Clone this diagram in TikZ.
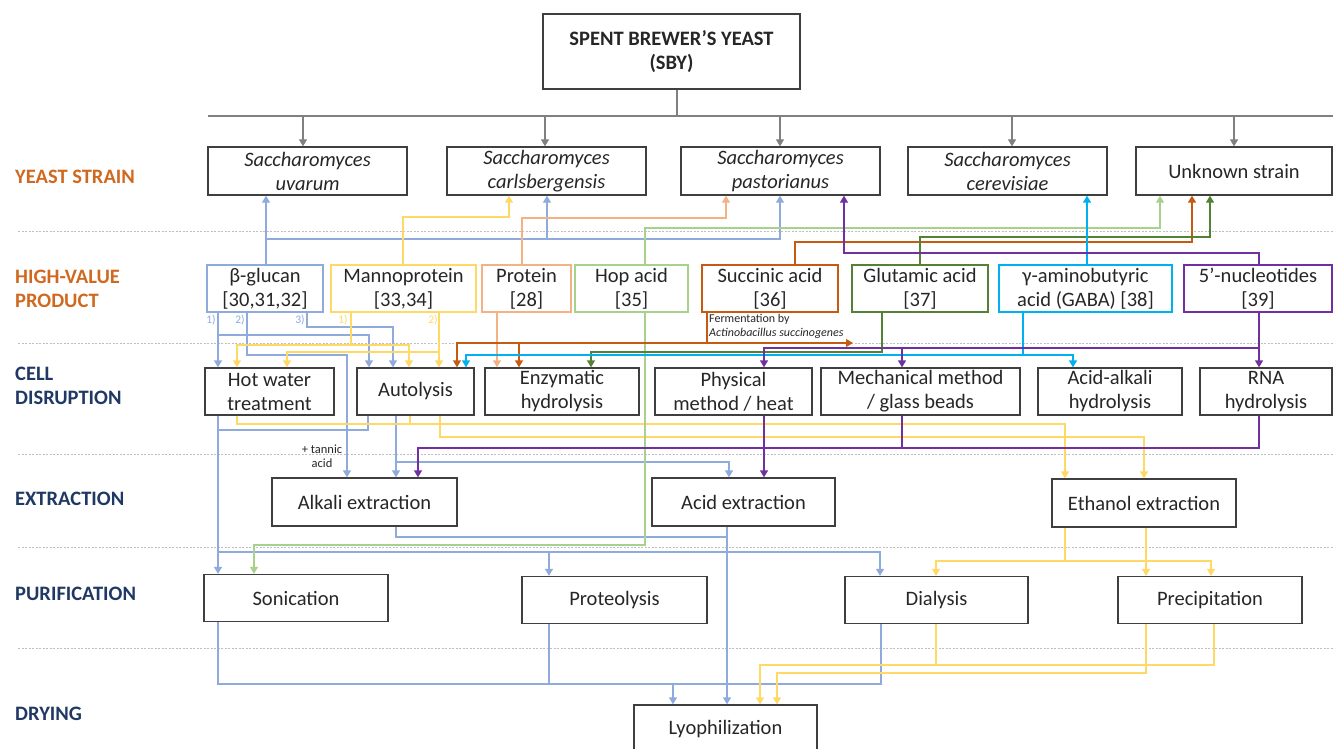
\documentclass[tikz,border=0pt]{standalone}
\usepackage{fontspec}
\setmainfont{Carlito}
\usetikzlibrary{arrows.meta}
\definecolor{gline}{HTML}{808080}
\definecolor{bxc}{HTML}{3F3F3F}
\definecolor{txt}{HTML}{262626}
\definecolor{cbl}{HTML}{8FAADC}
\definecolor{cye}{HTML}{FFD966}
\definecolor{clo}{HTML}{F4B183}
\definecolor{clg}{HTML}{A9D18E}
\definecolor{cdo}{HTML}{C55A11}
\definecolor{cdg}{HTML}{548235}
\definecolor{ccy}{HTML}{00B0F0}
\definecolor{cpu}{HTML}{7030A0}
\definecolor{laborange}{HTML}{D0691F}
\definecolor{labnavy}{HTML}{1F3864}
\definecolor{dashc}{HTML}{BFBFBF}
\begin{document}
\begin{tikzpicture}[x=1pt,y=-1pt,
  box/.style={draw=bxc, line width=1.3pt, inner sep=0pt, align=center, text=txt,
    font=\fontsize{20.5}{24}\selectfont},
  pbox/.style={box, line width=2pt},
  lab/.style={anchor=west, align=left, inner sep=0pt, font=\fontsize{20.5}{24}\bfseries},
  ar/.style={-{Triangle[width=8pt,length=7pt]}},
  wgr/.style={draw=gline, line width=1.3pt},
  wbl/.style={draw=cbl, line width=1.3pt},
  wye/.style={draw=cye, line width=1.3pt},
  wlo/.style={draw=clo, line width=1.3pt},
  wlg/.style={draw=clg, line width=1.3pt},
  wdo/.style={draw=cdo, line width=1.3pt},
  wdg/.style={draw=cdg, line width=1.3pt},
  wcy/.style={draw=ccy, line width=1.3pt},
  wpu/.style={draw=cpu, line width=1.3pt},
  sep/.style={draw=dashc, line width=0.9pt, dash pattern=on 2pt off 1.5pt},
  small/.style={inner sep=0pt, font=\fontsize{11.5}{14}\selectfont}
]
\useasboundingbox (0,0) rectangle (1333,749);

% separators
\foreach \yy in {231,343,454,547,648} \draw[sep] (18,\yy) -- (1333,\yy);

% left labels
\node[lab, text=laborange] (lys) at (15,177) {YEAST STRAIN};
\node[lab, text=laborange] (lhv) at (15,289) {HIGH-VALUE\\PRODUCT};
\node[lab, text=labnavy] (lcd) at (15,386) {CELL\\DISRUPTION};
\node[lab, text=labnavy] (lex) at (15,499) {EXTRACTION};
\node[lab, text=labnavy] (lpu) at (15,594) {PURIFICATION};
\node[lab, text=labnavy] (ldr) at (15,714) {DRYING};

% top
\node[box, minimum width=257pt, minimum height=75pt, font=\fontsize{20.5}{24}\bfseries] (sby) at (671.5,51.5) {SPENT BREWER’S YEAST\\(SBY)};

% strains
\node[box, minimum width=199pt, minimum height=48pt] (uv) at (307.5,171) {\textit{Saccharomyces}\\\textit{uvarum}};
\node[box, minimum width=199pt, minimum height=48pt] (carls) at (546.5,171) {\textit{Saccharomyces}\\\textit{carlsbergensis}};
\node[box, minimum width=199pt, minimum height=48pt] (past) at (780.5,171) {\textit{Saccharomyces}\\\textit{pastorianus}};
\node[box, minimum width=199pt, minimum height=48pt] (cerev) at (1007.5,171) {\textit{Saccharomyces}\\\textit{cerevisiae}};
\node[box, minimum width=196pt, minimum height=48pt] (unk) at (1234,171) {Unknown strain};

% products
\node[pbox, draw=cbl, minimum width=116pt, minimum height=47pt] (bg) at (265,288.5) {β-glucan\\{[30,31,32]}};
\node[pbox, draw=cye, minimum width=145pt, minimum height=47pt] (manno) at (403.5,288.5) {Mannoprotein\\{[33,34]}};
\node[pbox, draw=clo, minimum width=89pt, minimum height=47pt] (prot) at (526.5,288.5) {Protein\\{[28]}};
\node[pbox, draw=clg, minimum width=113pt, minimum height=47pt] (hop) at (631.5,288.5) {Hop acid\\{[35]}};
\node[pbox, draw=cdo, minimum width=136pt, minimum height=47pt] (succ) at (770,288.5) {Succinic acid\\{[36]}};
\node[pbox, draw=cdg, minimum width=136pt, minimum height=47pt] (glu) at (920,288.5) {Glutamic acid\\{[37]}};
\node[pbox, draw=ccy, minimum width=173pt, minimum height=47pt] (gaba) at (1085.5,288.5) {γ-aminobutyric\\acid (GABA) [38]};
\node[pbox, draw=cpu, minimum width=148pt, minimum height=47pt] (nuc) at (1258,288.5) {5’-nucleotides\\{[39]}};

% cell disruption
\node[box, minimum width=129pt, minimum height=47pt] (hw) at (269.5,391.5) {Hot water\\treatment};
\node[box, minimum width=117pt, minimum height=47pt] (auto) at (415.5,391.5) {Autolysis};
\node[box, minimum width=154pt, minimum height=47pt] (enz) at (562,391.5) {Enzymatic\\hydrolysis};
\node[box, minimum width=157pt, minimum height=47pt] (phys) at (733.5,391.5) {Physical\\method / heat};
\node[box, minimum width=199pt, minimum height=47pt] (mech) at (920.5,391.5) {Mechanical method\\/ glass beads};
\node[box, minimum width=144pt, minimum height=47pt] (aa) at (1110,391.5) {Acid-alkali\\hydrolysis};
\node[box, minimum width=132pt, minimum height=47pt] (rna) at (1266,391.5) {RNA\\hydrolysis};

% extraction
\node[box, minimum width=185pt, minimum height=48pt] (alk) at (364.5,502) {Alkali extraction};
\node[box, minimum width=183pt, minimum height=48pt] (acid) at (743.5,502) {Acid extraction};
\node[box, minimum width=184pt, minimum height=48pt] (eth) at (1144,503) {Ethanol extraction};

% purification
\node[box, minimum width=184pt, minimum height=47pt] (son) at (296,598) {Sonication};
\node[box, minimum width=185pt, minimum height=47pt] (prteo) at (614.5,600) {Proteolysis};
\node[box, minimum width=183pt, minimum height=47pt] (dial) at (936.5,600) {Dialysis};
\node[box, minimum width=184pt, minimum height=47pt] (prec) at (1210,600) {Precipitation};

% drying
\node[box, minimum width=183pt, minimum height=48pt] (lyo) at (725.5,729) {Lyophilization};

% small labels
\node[small, text=cbl] (l1) at (211,320) {1)};
\node[small, text=cbl] (l2) at (240,320) {2)};
\node[small, text=cbl] (l3) at (300,320) {3)};
\node[small, text=cye] (m1) at (343,320) {1)};
\node[small, text=cye] (m2) at (433,320) {2)};
\node[small, align=center, text=txt, font=\fontsize{12.5}{14}\selectfont] (tan) at (322,456) {+ tannic\\acid};
\node[small, anchor=west, align=left, text=txt, font=\fontsize{12}{14}\selectfont] (fer) at (709,326) {Fermentation by\\\textit{Actinobacillus succinogenes}};
\coordinate (ferm) at (853,343);

% ---------- gray ----------
\draw[wgr] (sby.south -| 677,0) -- (677,116);
\draw[wgr] (208,116) -- (1333,116);
\draw[wgr,ar] (303,116) -- (uv.north -| 303,0);
\draw[wgr,ar] (545,116) -- (carls.north -| 545,0);
\draw[wgr,ar] (780,116) -- (past.north -| 780,0);
\draw[wgr,ar] (1012,116) -- (cerev.north -| 1012,0);
\draw[wgr,ar] (1234,116) -- (unk.north -| 1234,0);

% ---------- blue (beta-glucan) ----------
\draw[wbl,ar] (bg.north -| 266,0) -- (uv.south -| 266,0);
\draw[wbl,ar] (266,239) -| (carls.south -| 547,0);
\draw[wbl,ar] (547,239) -| (past.south -| 780,0);
\draw[wbl,ar] (bg.south -| 218,0) -- (hw.north -| 218,0);
\draw[wbl,ar] (218,335) -| (auto.north -| 369,0);
\draw[wbl,ar] (bg.south -| 247,0) |- (347,355) -- (alk.north -| 347,0);
\draw[wbl,ar] (bg.south -| 307,0) |- (393,327) -- (auto.north -| 393,0);
\draw[wbl,ar] (hw.south -| 218,0) -- (son.north -| 218,0);
\draw[wbl] (auto.south -| 368,0) |- (218,430);
\draw[wbl,ar] (auto.south -| 396,0) -- (alk.north -| 396,0);
\draw[wbl,ar] (396,462) -| (acid.north -| 729,0);
\draw[wbl] (alk.south -| 396,0) |- (727,537);
\draw[wbl,ar] (acid.south -| 727,0) -- (lyo.north -| 727,0);
\draw[wbl,ar] (218,552) -| (prteo.north -| 549,0);
\draw[wbl,ar] (549,552) -| (dial.north -| 880,0);
\draw[wbl] (son.south -| 218,0) |- (881,684) -- (dial.south -| 881,0);
\draw[wbl] (prteo.south -| 549,0) -- (549,684);
\draw[wbl,ar] (673,684) -- (lyo.north -| 673,0);

% ---------- yellow (mannoprotein) ----------
\draw[wye,ar] (manno.north -| 403,0) |- (509,217) -- (carls.south -| 509,0);
\draw[wye] (manno.south -| 351,0) -- (351,345);
\draw[wye,ar] (351,345) -| (hw.north -| 237,0);
\draw[wye,ar] (351,345) -| (auto.north -| 409,0);
\draw[wye,ar] (manno.south -| 439,0) -- (auto.north -| 439,0);
\draw[wye,ar] (439,352) -| (hw.north -| 287,0);
\draw[wye,ar] (hw.south -| 237,0) |- (1065,424) -- (eth.north -| 1065,0);
\draw[wye] (auto.south -| 410,0) -- (410,424);
\draw[wye,ar] (auto.south -| 440,0) |- (1144,437) -- (eth.north -| 1144,0);
\draw[wye] (eth.south -| 1065,0) -- (1065,561);
\draw[wye,ar] (1065,561) -| (dial.north -| 936,0);
\draw[wye,ar] (1065,561) -| (prec.north -| 1211,0);
\draw[wye,ar] (eth.south -| 1146,0) -- (prec.north -| 1146,0);
\draw[wye,ar] (prec.south -| 1214,0) |- (760,665) -- (lyo.north -| 760,0);
\draw[wye] (dial.south -| 936,0) -- (936,665);
\draw[wye,ar] (prec.south -| 1146,0) |- (777,673) -- (lyo.north -| 777,0);

% ---------- light orange (protein) ----------
\draw[wlo,ar] (prot.north -| 522,0) |- (726,218) -- (past.south -| 726,0);
\draw[wlo,ar] (prot.south -| 497,0) -- (enz.north -| 497,0);

% ---------- light green (hop acid) ----------
\draw[wlg,ar] (hop.north -| 645,0) |- (1160,228) -- (unk.south -| 1160,0);
\draw[wlg,ar] (hop.south -| 645,0) |- (254,545) -- (son.north -| 254,0);

% ---------- dark orange (succinic) ----------
\draw[wdo,ar] (succ.north -| 795,0) |- (1192,242) -- (unk.south -| 1192,0);
\draw[wdo,ar] (succ.south -| 707,0) |- (ferm);
\draw[wdo,ar] (707,343) -| (auto.north -| 457,0);
\draw[wdo,ar] (519,343) -- (enz.north -| 519,0);

% ---------- dark green (glutamic) ----------
\draw[wdg,ar] (glu.north -| 920,0) |- (1210,237) -- (unk.south -| 1210,0);
\draw[wdg,ar] (glu.south -| 882,0) |- (591,352) -- (enz.north -| 591,0);

% ---------- cyan (GABA) ----------
\draw[wcy,ar] (gaba.north -| 1087,0) -- (cerev.south -| 1087,0);
\draw[wcy] (gaba.south -| 1023,0) -- (1023,355);
\draw[wcy,ar] (1023,355) -| (auto.north -| 466,0);
\draw[wcy,ar] (1023,355) -| (aa.north -| 1073,0);

% ---------- purple (5'-nucleotides) ----------
\draw[wpu,ar] (nuc.north -| 1259,0) |- (844,253) -- (past.south -| 844,0);
\draw[wpu,ar] (nuc.south -| 1259,0) -- (rna.north -| 1259,0);
\draw[wpu,ar] (1259,348) -| (phys.north -| 764,0);
\draw[wpu,ar] (902,348) -- (mech.north -| 902,0);
\draw[wpu,ar] (phys.south -| 764,0) -- (acid.north -| 764,0);
\draw[wpu,ar] (rna.south -| 1259,0) |- (418,448) -- (alk.north -| 418,0);
\draw[wpu] (mech.south -| 902,0) -- (902,448);
\end{tikzpicture}
\end{document}
